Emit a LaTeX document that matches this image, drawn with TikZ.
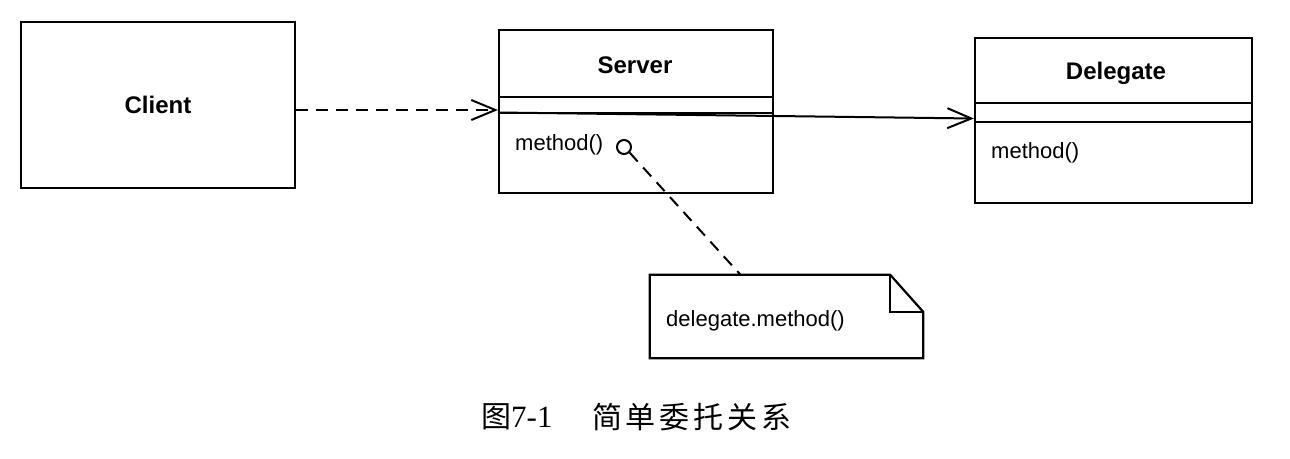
\documentclass[tikz,border=0pt]{standalone}
\usepackage{fontspec}
\setmainfont{Liberation Sans}
\newfontfamily\cjk{Noto Sans CJK SC}
\newfontfamily\serif{Liberation Serif}
\usetikzlibrary{arrows.meta}
\begin{document}
\begin{tikzpicture}[x=1pt,y=-1pt,
  box/.style={draw, line width=2.2pt, inner sep=0pt},
  sep/.style={line width=2pt},
  ttl/.style={font=\fontsize{24}{28}\selectfont\bfseries, inner sep=0pt},
  meth/.style={font=\fontsize{22}{26}\selectfont, inner sep=0pt, anchor=west},
  depline/.style={line width=2pt, dash pattern=on 12pt off 8pt, -{Straight Barb[length=24pt,width=20pt,line width=2pt]}},
  assoc/.style={line width=2pt, -{Straight Barb[length=24pt,width=20pt,line width=2pt]}},
  anchorline/.style={line width=2pt, dash pattern=on 12pt off 8pt}
]
\useasboundingbox (0,0) rectangle (1290,458);
% Client
\node[box, minimum width=274pt, minimum height=166pt, font=\fontsize{24}{28}\selectfont\bfseries] (client) at (158,105) {Client};
% Server
\node[box, minimum width=274pt, minimum height=163pt] (server) at (636,111.5) {};
\draw[sep] (server.west |- 0,97) -- (server.east |- 0,97);
\draw[sep] (server.west |- 0,112.5) -- (server.east |- 0,112.5);
\node[ttl] (servername) at (635,65) {Server};
\node[meth] (servermethod) at (515,145) {method()};
\node[draw, circle, line width=2pt, minimum size=14pt, inner sep=0pt] (opcircle) at (624,147) {};
% Delegate
\node[box, minimum width=277pt, minimum height=165pt] (delegate) at (1113.5,120.5) {};
\draw[sep] (delegate.west |- 0,103) -- (delegate.east |- 0,103);
\draw[sep] (delegate.west |- 0,122) -- (delegate.east |- 0,122);
\node[ttl] (delegatename) at (1116,73) {Delegate};
\node[meth] (delegatemethod) at (991,153) {method()};
% Note
\node[minimum width=273pt, minimum height=83pt, inner sep=0pt] (note) at (786.5,316.5) {};
\draw[line width=2.2pt, line join=miter]
  (note.north west) -- ([xshift=-33pt]note.north east) -- ([yshift=-37pt]note.north east)
  -- (note.south east) -- (note.south west) -- cycle;
\draw[line width=1.8pt] ([xshift=-33pt]note.north east) -- ([xshift=-33pt,yshift=-37pt]note.north east) -- ([yshift=-37pt]note.north east);
\node[meth] (notetext) at (666,321) {delegate.method()};
% connectors
\draw[depline] ([yshift=-5pt]client.east) -- ([yshift=1.5pt]server.west);
\draw[assoc] ([yshift=-1pt]server.west) -- ([yshift=2pt]delegate.west);
\draw[anchorline] (opcircle.south east) -- ([xshift=-46pt]note.north);
% caption
\node[anchor=west, inner sep=0pt] (capnum) at (481,417) {{\cjk\fontsize{30}{32}\selectfont 图}{\serif\fontsize{31}{32}\selectfont 7-1}};
\node[anchor=west, inner sep=0pt] (captext) at (592,417) {\cjk\fontsize{30}{32}\selectfont\makebox[199pt][s]{简\hfill 单\hfill 委\hfill 托\hfill 关\hfill 系}};
\end{tikzpicture}
\end{document}
